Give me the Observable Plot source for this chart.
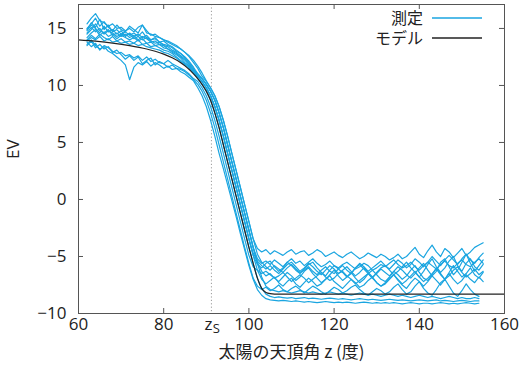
<!DOCTYPE html>
<html><head><meta charset="utf-8">
<script src="https://cdn.jsdelivr.net/npm/d3@7"></script>
<script src="https://cdn.jsdelivr.net/npm/@observablehq/plot@0.6"></script>
<style>
body{margin:0;background:#fff;}
#chart{width:522px;height:373px;}
</style></head><body><div id="chart"></div>
<script>
// ---- data ----
const zStart = 62; // measured series sampled every 1° from here
const c01 = [15.4,15.9,16.3,15.7,15.5,15.2,15.4,15.0,15.1,14.8, 15.0,14.7,15.1,15.3,14.6,14.5,14.3,14.2,14.0,13.8, 13.6,13.4,13.2,12.9,12.6,12.2,11.7,11.1,10.4,9.8, 9.1,8.15,6.95,5.55,4.05,2.55,1.05,-0.45,-1.95,-3.45, -4.3,-4.6,-4.4,-4.8,-4.5,-4.7,-4.9,-4.6,-4.4,-4.8, -4.6,-4.5,-4.9,-4.7,-4.4,-4.6,-5.0,-4.8,-4.6,-4.9, -5.1,-4.8,-4.6,-4.9,-5.2,-5.0,-4.7,-4.9,-5.1,-4.8, -5.0,-5.3,-5.1,-4.8,-5.2,-5.0,-4.6,-4.2,-4.8,-5.1, -4.5,-4.0,-4.6,-5.0,-4.3,-4.6,-5.1,-4.7,-4.3,-4.9, -4.6,-4.2,-4.0,-3.8];
const c02 = [14.9,15.5,15.1,15.8,14.9,15.3,14.7,14.9,14.5,14.7, 14.4,14.6,14.3,14.7,14.2,14.0,14.1,13.8,13.6,13.5, 13.3,13.0,12.8,12.5,12.1,11.6,11.02,10.6,10.1,9.5, 8.7,7.6,6.3,4.8,3.3,1.8,0.3,-1.2,-2.7,-4.2, -5.2,-5.6,-5.4,-5.7,-5.3,-5.6,-5.9,-5.5,-5.2,-5.6, -5.4,-5.8,-5.5,-5.2,-5.6,-5.9,-5.7,-5.4,-5.8,-6.0, -5.7,-5.5,-5.8,-6.1,-5.9,-5.6,-5.8,-6.2,-6.0,-5.7, -5.9,-5.6,-5.3,-5.7,-6.0,-5.8,-5.5,-5.9,-6.2,-5.8, -5.5,-5.8,-6.1,-5.7,-5.4,-5.8,-6.0,-5.6,-5.3,-5.7, -5.9,-5.5,-5.2,-5.6];
const c03 = [14.5,14.9,15.4,14.8,14.6,14.9,14.4,14.6,14.3,14.5, 14.2,14.4,14.0,14.3,14.1,13.8,13.9,13.6,13.5,13.2, 13.0,12.8,12.5,12.2,11.8,11.3,10.81,10.35,9.8,9.1, 8.15,6.95,5.55,4.05,2.55,1.05,-0.45,-1.95,-3.45,-4.9, -5.7,-6.0,-5.6,-5.4,-5.9,-6.3,-6.0,-5.5,-5.8,-6.2, -6.5,-6.1,-5.7,-5.5,-6.0,-6.4,-6.7,-6.2,-5.8,-6.1, -6.4,-6.8,-6.5,-6.0,-5.7,-6.1,-6.5,-6.9,-6.4,-6.0, -5.8,-6.2,-6.6,-6.3,-5.9,-5.5,-6.0,-6.4,-6.8,-6.3, -5.7,-5.2,-5.9,-6.4,-6.0,-5.4,-5.0,-5.8,-6.3,-5.6, -5.2,-5.9,-6.2,-5.7];
const c04 = [14.2,14.6,14.9,14.4,14.7,14.3,14.5,14.1,14.4,14.2, 14.0,14.2,13.9,14.1,13.7,13.8,13.5,13.6,13.3,13.2, 12.9,12.7,12.4,12.0,11.7,11.2,11.02,10.6,10.1,9.5, 8.7,7.6,6.3,4.8,3.3,1.8,0.3,-1.2,-2.7,-4.2, -5.5,-6.3,-6.7,-6.5,-6.9,-7.2,-6.8,-6.4,-6.7,-7.1, -6.8,-6.3,-6.0,-6.5,-6.9,-7.3,-7.0,-6.6,-6.2,-6.7, -7.1,-6.8,-6.4,-6.9,-7.3,-7.0,-6.5,-6.2,-6.6,-7.0, -7.2,-6.8,-6.3,-6.6,-7.0,-6.7,-6.2,-5.8,-6.4,-6.9, -7.1,-6.6,-6.0,-6.5,-7.0,-6.4,-5.8,-6.3,-6.8,-6.5, -6.0,-6.6,-6.9,-6.4];
const c05 = [14.0,14.4,14.1,14.5,14.2,14.0,14.3,13.9,14.1,13.8, 13.9,13.7,14.0,13.6,13.7,13.4,13.5,13.3,13.1,13.0, 12.8,12.5,12.2,11.9,11.6,11.1,10.81,10.35,9.8,9.1, 8.15,6.95,5.55,4.05,2.55,1.05,-0.45,-1.95,-3.45,-4.9, -6.2,-7.0,-7.4,-7.1,-6.8,-7.3,-7.6,-7.2,-6.9,-7.4, -7.7,-7.3,-6.9,-7.2,-7.6,-7.4,-7.0,-6.7,-7.2,-7.5, -7.8,-7.4,-7.0,-7.3,-7.7,-7.5,-7.1,-6.8,-7.3,-7.6, -7.4,-7.0,-6.6,-7.1,-7.5,-7.8,-7.3,-6.9,-7.2,-7.6, -7.2,-6.7,-7.1,-7.5,-7.0,-6.5,-7.0,-7.4,-7.1,-6.6, -7.0,-7.3,-6.8,-7.2];
const c06 = [15.0,15.4,15.9,15.2,15.6,15.1,14.8,15.3,14.9,14.7, 15.2,14.9,14.6,15.3,14.8,14.4,14.5,14.2,14.0,13.9, 13.7,13.5,13.2,12.9,12.5,12.0,11.5,10.81,10.35,9.8, 9.1,8.15,6.95,5.55,4.05,2.55,1.05,-0.45,-1.95,-3.45, -4.8,-5.5,-5.9,-6.2,-5.8,-6.1,-6.4,-6.0,-5.7,-6.1, -6.4,-6.2,-5.9,-6.3,-6.6,-6.2,-5.9,-6.3,-6.5,-6.1, -5.8,-6.2,-6.5,-6.0,-5.6,-5.9,-6.3,-6.0,-5.7,-5.4, -5.8,-6.1,-5.7,-5.3,-5.6,-6.0,-5.7,-5.2,-5.5,-5.9, -5.5,-5.0,-5.4,-5.8,-5.3,-4.9,-5.3,-5.7,-5.2,-4.8, -5.3,-5.6,-5.1,-4.7];
const c07 = [13.9,14.2,14.0,14.3,13.9,14.1,13.8,13.9,13.7,13.8, 13.6,13.7,13.5,13.6,13.4,13.3,13.2,13.1,12.9,12.8, 12.6,12.4,12.1,11.8,11.5,11.1,10.6,10.1,9.5,8.7, 7.6,6.3,4.8,3.3,1.8,0.3,-1.2,-2.7,-4.2,-5.6, -6.9,-7.8,-8.3,-8.5,-8.6,-8.55,-8.6,-8.65,-8.6,-8.7, -8.65,-8.6,-8.7,-8.65,-8.7,-8.75,-8.7,-8.65,-8.7,-8.75, -8.7,-8.75,-8.8,-8.75,-8.7,-8.75,-8.8,-8.75,-8.8,-8.85, -8.8,-8.75,-8.8,-8.85,-8.8,-8.85,-8.9,-8.85,-8.8,-8.85, -8.9,-8.85,-8.8,-8.9,-8.85,-8.9,-8.95,-8.9,-8.85,-8.9, -8.95,-8.9,-8.9,null];
const c08 = [13.6,14.0,13.5,13.2,13.4,13.0,12.8,12.5,12.2,11.8, 10.5,11.6,12.0,11.8,12.1,11.7,12.0,11.8,11.5,11.7, 11.4,11.5,11.2,11.0,10.7,10.4,9.8,9.1,8.15,6.95, 5.55,4.05,2.7,1.3,-0.1,-1.5,-3.0,-4.4,-5.8,-7.0, -7.9,-8.4,-8.7,-8.8,-8.85,-8.9,-8.85,-8.9,-8.95,-8.9, -8.95,-9.0,-8.95,-9.0,-9.05,-9.0,-8.95,-9.0,-9.05,-9.0, -9.05,-9.0,-9.05,-9.1,-9.05,-9.0,-9.05,-9.1,-9.05,-9.1, -9.05,-9.1,-9.05,-9.1,-9.15,-9.1,-9.05,-9.1,-9.15,-9.1, -9.1,-9.15,-9.1,-9.05,-9.1,-9.15,-9.1,-9.15,-9.1,-9.05, -9.1,-9.15,-9.1,null];
const c09 = [13.8,13.4,13.7,13.1,13.5,13.3,13.0,12.8,12.9,12.6, 12.7,12.4,12.6,12.2,12.5,12.1,12.3,12.0,11.9,11.6, 11.8,11.5,11.4,11.2,10.9,10.5,10.1,9.5,8.7,7.6, 6.3,4.8,3.3,1.8,0.3,-1.2,-2.7,-4.2,-5.6,-6.9, -7.6,-7.9,-7.7,-8.0,-7.8,-7.5,-7.9,-8.1,-7.8,-7.6, -7.9,-8.2,-7.9,-7.6,-7.8,-8.1,-8.3,-8.0,-7.7,-7.9, -8.2,-8.0,-7.7,-7.5,-7.9,-8.2,-8.4,-8.1,-7.8,-8.0, -8.3,-8.1,-7.7,-7.4,-7.9,-8.3,-8.1,-7.6,-7.2,-7.8, -8.2,-8.4,-7.9,-7.3,-7.0,-7.6,-8.2,-8.5,-8.0,-7.4, -7.9,-8.3,-8.5,null];
const c10 = [13.5,13.9,13.3,13.6,13.2,13.4,12.9,13.1,12.7,12.3, 12.6,12.2,12.5,11.9,12.2,12.4,11.8,12.1,11.9,12.2, 11.9,11.7,11.5,11.3,11.0,10.6,10.35,9.8,9.1,8.15, 6.95,5.55,4.05,2.55,1.05,-0.45,-1.95,-3.45,-4.9,-5.9, -6.2,-6.5,-6.3,-6.6,-6.9,-6.7,-6.4,-6.8,-7.2,-6.9, -6.6,-6.9,-7.3,-7.0,-6.7,-6.4,-6.8,-7.1,-6.9,-6.5, -6.3,-6.7,-7.0,-7.4,-7.1,-6.8,-6.5,-6.9,-7.3,-7.6, -7.3,-6.9,-6.6,-7.0,-7.4,-7.1,-6.7,-6.3,-6.8,-7.2, -6.9,-6.5,-6.1,-6.6,-7.0,-6.7,-6.2,-5.9,-6.4,-6.8, -6.5,-6.1,-6.6,-6.3];
const c11 = [14.6,15.1,14.7,15.0,14.5,14.8,14.6,14.3,14.5,14.4, 14.5,14.1,14.3,14.0,14.2,13.9,13.7,13.8,13.5,13.4, 13.1,12.9,12.6,12.3,11.9,11.4,11.02,10.6,10.1,9.5, 8.7,7.6,6.3,4.8,3.3,1.8,0.3,-1.2,-2.7,-4.2, -5.6,-6.8,-7.6,-7.9,-8.0,-8.1,-8.0,-8.1,-8.2,-8.1, -8.0,-8.1,-8.2,-8.1,-8.2,-8.3,-8.2,-8.1,-8.2,-8.3, -8.2,-8.3,-8.4,-8.3,-8.2,-8.3,-8.4,-8.3,-8.4,-8.5, -8.4,-8.3,-8.4,-8.5,-8.4,-8.5,-8.6,-8.5,-8.4,-8.5, -8.6,-8.5,-8.6,-8.7,-8.6,-8.5,-8.6,-8.7,-8.6,-8.7, -8.7,-8.6,-8.7,null];
const c12 = [14.8,15.3,15.0,14.6,15.2,14.7,14.9,14.5,14.8,14.3, 14.6,14.3,14.5,14.2,14.4,14.0,14.2,13.8,13.9,13.6, 13.4,13.1,12.8,12.4,12.0,11.5,10.81,10.35,9.8,9.1, 8.15,6.95,5.55,4.05,2.55,1.05,-0.45,-1.95,-3.45,-4.7, -5.4,-5.8,-6.1,-5.8,-6.2,-6.5,-6.1,-5.7,-5.5,-5.9, -6.3,-6.0,-5.6,-5.9,-6.3,-6.6,-6.2,-5.8,-6.1,-6.5, -6.2,-5.9,-6.3,-6.7,-6.4,-6.0,-6.4,-6.8,-6.5,-6.1, -6.4,-6.7,-6.3,-5.9,-6.2,-6.6,-6.9,-6.5,-6.0,-5.6, -6.2,-6.7,-6.3,-5.5,-5.2,-5.9,-6.6,-6.2,-5.5,-4.8, -5.6,-6.3,-5.8,-5.3];
const measuredSeries = [c01,c02,c03,c04,c05,c06,c07,c08,c09,c10,c11,c12];

const modelZ  = [60, 64, 68, 72, 76, 78, 80, 82, 84, 85, 86, 87, 88, 89, 90, 91, 92, 93, 94, 95, 96, 97, 98, 99, 100, 101, 102, 103, 104, 105, 107, 160];
const modelEV = [14.0, 13.88, 13.72, 13.5, 13.2, 13.0, 12.75, 12.43, 12.0, 11.72, 11.4, 11.02, 10.6, 10.1, 9.5, 8.7, 7.6, 6.3, 4.8, 3.3, 1.8, 0.3, -1.2, -2.7, -4.2, -5.6, -6.9, -7.8, -8.15, -8.25, -8.3, -8.3];

const zS = 91.2;
const xTicks = [60, 80, 100, 120, 140, 160];
const yTicks = [-10, -5, 0, 5, 10, 15];
const xDomain = [60, 160];
const yDomain = [-10, 17.1];
const xLabel = "太陽の天頂角 z (度)";
const yLabel = "EV";
const legendLabels = ["測定", "モデル"];

// ---- layout / style ----
const W = 522, H = 373, mL = 78, mR = 18, mT = 4, mB = 60;
const plotW = W - mL - mR, plotH = H - mT - mB;
const tickLen = 5;
const cyan = "#1aa5e0";
const modelColor = "#222";
const frameColor = "#555";
const font = "'Open Sans', 'Noto Sans CJK JP', sans-serif";

const rows = measuredSeries.flatMap((arr, k) =>
  arr.map((ev, i) => ({series: k, z: zStart + i, ev})).filter(d => d.ev != null));
const modelRows = modelZ.map((z, i) => ({z, ev: modelEV[i]}));

const chart = Plot.plot({
  width: W, height: H,
  marginLeft: mL, marginRight: mR, marginTop: mT, marginBottom: mB,
  style: {fontFamily: font, fontSize: "17px", color: "#222", background: "#fff"},
  x: {domain: xDomain},
  y: {domain: yDomain},
  marks: [
    Plot.ruleX([zS], {stroke: "#9a9a9a", strokeDasharray: "1.2,2.2", strokeWidth: 1}),
    Plot.line(rows, {x: "z", y: "ev", z: "series", stroke: cyan, strokeWidth: 1.2}),
    Plot.line(modelRows, {x: "z", y: "ev", stroke: modelColor, strokeWidth: 1.2, curve: "monotone-x"}),
    Plot.frame({stroke: frameColor, strokeWidth: 1}),
    Plot.tickX(xTicks, {x: d => d, stroke: frameColor, insetTop: plotH - tickLen}),
    Plot.tickX(xTicks, {x: d => d, stroke: frameColor, insetBottom: plotH - tickLen}),
    Plot.tickY(yTicks, {y: d => d, stroke: frameColor, insetRight: plotW - tickLen}),
    Plot.tickY(yTicks, {y: d => d, stroke: frameColor, insetLeft: plotW - tickLen}),
    Plot.axisX(xTicks, {tickSize: 0, tickPadding: 4, label: null, fontSize: 17}),
    Plot.axisY(yTicks, {tickSize: 0, tickPadding: 12, label: null, fontSize: 17}),
    Plot.text([zS], {x: d => d, frameAnchor: "bottom", text: () => "z", dx: -3, dy: 11, fontSize: 17, lineAnchor: "middle"}),
    Plot.text([zS], {x: d => d, frameAnchor: "bottom", text: () => "S", dx: 5, dy: 15, fontSize: 13, lineAnchor: "middle"}),
    Plot.text([xLabel], {frameAnchor: "bottom", text: d => d, dy: 44, fontSize: 17, fontFamily: "'Noto Sans CJK JP', 'Open Sans', sans-serif"}),
    Plot.text([yLabel], {frameAnchor: "left", text: d => d, dx: -65, rotate: -90, fontSize: 17})
  ]
});

// legend (inside top-right)
const svg = d3.select(chart);
const legendColors = [cyan, modelColor];
const lg = svg.append("g").attr("font-family", "'Liberation Sans', 'Noto Sans CJK JP', sans-serif").attr("font-size", 16).attr("fill", "#222");
legendLabels.forEach((lab, i) => {
  const y = 18 + i * 20;
  lg.append("text").attr("x", 423).attr("y", y).attr("dy", "0.35em").attr("text-anchor", "end").text(lab);
  lg.append("line").attr("x1", 432).attr("x2", 482).attr("y1", y).attr("y2", y)
    .attr("stroke", legendColors[i]).attr("stroke-width", 1.3);
});

document.getElementById("chart").appendChild(chart);
</script>
</body></html>
